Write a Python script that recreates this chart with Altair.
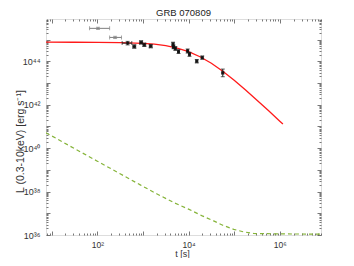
import altair as alt
import pandas as pd

# ---------------- data ----------------
# red model curve
red_t = [7.5, 31.6, 100, 316, 1000, 1778, 3162, 5623, 10000, 17783, 31623, 56234,
         100000, 177828, 316228, 562341, 1000000, 1170000]
red_L = [7.59e44, 7.57e44, 7.48e44, 7.24e44, 6.76e44, 6.17e44, 5.25e44, 4.07e44, 2.82e44,
         1.62e44, 8.13e43, 3.47e43, 1.35e43, 4.79e42, 1.62e42, 5.37e41, 1.74e41, 1.29e41]

# green dashed curve
grn_t = [7.5, 31.6, 100, 316, 871, 1995, 4677, 10000, 19953, 35481, 56234, 97724,
         158489, 269153, 501187, 1000000, 7900000]
grn_L = [5.13e40, 9.55e39, 2.51e39, 6.61e38, 2.04e38, 7.94e37, 3.16e37, 1.55e37, 7.59e36,
         4.47e36, 2.82e36, 1.82e36, 1.41e36, 1.17e36, 1.15e36, 1.12e36, 1.10e36]

# black data points
bk_t = [462, 646, 912, 1072, 1479, 4571, 4677, 5129, 6026, 9550, 10470, 15140, 19950, 56230]
bk_L = [6.9e44, 4.8e44, 7.4e44, 5.75e44, 5.0e44, 6.2e44, 4.6e44, 3.9e44, 2.8e44, 3.0e44,
        2.1e44, 1.02e44, 1.48e44, 2.95e43]
bk_Llo = [5.7e44, 4.0e44, 6.2e44, 4.8e44, 4.2e44, 5.0e44, 3.8e44, 3.2e44, 2.3e44, 2.4e44,
          1.7e44, 0.85e44, 1.25e44, 1.95e43]
bk_Lhi = [8.3e44, 5.8e44, 8.9e44, 6.9e44, 6.0e44, 7.6e44, 5.6e44, 4.8e44, 3.4e44, 3.7e44,
          2.6e44, 1.2e44, 1.75e44, 4.4e43]
bk_tlo = [350, 600, 850, 1000, 1380, 4350, 4450, 4880, 5730, 9080, 9960, 14400, 18980, 53500]
bk_thi = [570, 694, 980, 1152, 1590, 4800, 4910, 5390, 6330, 10030, 11000, 15900, 20950, 59100]

# gray early points
gy_t = [103.5, 245]
gy_L = [3.3e45, 1.26e45]
gy_Llo = [2.95e45, 1.12e45]
gy_Lhi = [3.7e45, 1.42e45]
gy_tlo = [67.6, 186]
gy_thi = [186, 339]

# axis ticks
x_major = [10, 100, 1e3, 1e4, 1e5, 1e6]
x_label_exp = [2, 4, 6]
y_major = [1e36, 1e37, 1e38, 1e39, 1e40, 1e41, 1e42, 1e43, 1e44, 1e45]
y_label_exp = [36, 38, 40, 42, 44]

# ---------------- build ----------------
x_minor = [k * 10 ** d for d in range(0, 7) for k in range(2, 10) if 7.5 <= k * 10 ** d <= 8.0e6]
y_minor = [k * 10.0 ** d for d in range(36, 46) for k in range(2, 10) if k * 10.0 ** d <= 8.9e45]

FONT = "Liberation Sans"
TXT = "#333333"
TK = "#555555"

def sup_expr(exps):
    sup = str.maketrans("0123456789-", "⁰¹²³⁴⁵⁶⁷⁸⁹⁻")
    parts = [f"abs(log(datum.value)/LN10 - {e}) < 0.01 ? '10{str(e).translate(sup)}'" for e in exps]
    return " : ".join(parts) + " : ''"

xs = alt.Scale(type="log", domain=[7.5, 8.0e6], nice=False)
ys = alt.Scale(type="log", domain=[1e36, 8.9e45], nice=False)

common = dict(domain=False, grid=False, tickColor=TK, tickWidth=0.8, labelOverlap=False,
              labelFlush=False)

ax_x_bottom = alt.Axis(orient="bottom", values=x_major, offset=-4, tickSize=4,
                       labelExpr=sup_expr(x_label_exp), labelFont=FONT, labelFontSize=8.5,
                       labelColor=TXT, labelPadding=5, labelBaseline="top",
                       title="t [s]", titleFont=FONT, titleFontSize=9, titleFontWeight="normal",
                       titleColor=TXT, titleX=136, titleY=25.5, titleBaseline="alphabetic",
                       titleAlign="center", **common)
ax_x_bottom_minor = alt.Axis(orient="bottom", values=x_minor, offset=-2, tickSize=2,
                             labels=False, title=None, **common)
ax_x_top = alt.Axis(orient="top", values=x_major, offset=-4, tickSize=4, labels=False,
                    title=None, **common)
ax_x_top_minor = alt.Axis(orient="top", values=x_minor, offset=-2, tickSize=2, labels=False,
                          title=None, **common)

ax_y_left = alt.Axis(orient="left", values=y_major, offset=-4, tickSize=4,
                     labelExpr=sup_expr(y_label_exp), labelFont=FONT, labelFontSize=9,
                     labelColor=TXT, labelPadding=6, labelBaseline="middle",
                     title="L (0.3-10keV) [erg s⁻¹]", titleFont=FONT, titleFontSize=10.5,
                     titleFontWeight="normal", titleColor=TXT, titleAngle=270,
                     titleX=-30, titleY=122, titleBaseline="middle", titleAlign="center",
                     **common)
ax_y_left_minor = alt.Axis(orient="left", values=y_minor, offset=-2, tickSize=2,
                           labels=False, title=None, **common)
ax_y_right = alt.Axis(orient="right", values=y_major, offset=-4, tickSize=4, labels=False,
                      title=None, **common)
ax_y_right_minor = alt.Axis(orient="right", values=y_minor, offset=-2, tickSize=2,
                            labels=False, title=None, **common)

df_red = pd.DataFrame({"t": red_t, "L": red_L})
df_grn = pd.DataFrame({"t": grn_t, "L": grn_L})
df_pts = pd.DataFrame({
    "t": bk_t + gy_t,
    "L": bk_L + gy_L,
    "Llo": bk_Llo + gy_Llo,
    "Lhi": bk_Lhi + gy_Lhi,
    "tlo": bk_tlo + gy_tlo,
    "thi": bk_thi + gy_thi,
    "g": ["black"] * len(bk_t) + ["gray"] * len(gy_t),
})

col = alt.Color("g:N", scale=alt.Scale(domain=["gray", "black"], range=["#7f7f7f", "#1a1a1a"]),
                legend=None)

red = alt.Chart(df_red).mark_line(color="#ff1a1a", strokeWidth=1.3, clip=True).encode(
    x=alt.X("t:Q", scale=xs, axis=ax_x_bottom),
    y=alt.Y("L:Q", scale=ys, axis=ax_y_left),
)
grn = alt.Chart(df_grn).mark_line(color="#86b43a", strokeWidth=1.2, strokeDash=[4, 3],
                                  clip=True).encode(
    x=alt.X("t:Q", scale=xs, axis=ax_x_bottom_minor),
    y=alt.Y("L:Q", scale=ys, axis=ax_y_left_minor),
)
ey = alt.Chart(df_pts).mark_rule(strokeWidth=1).encode(
    x=alt.X("t:Q", scale=xs, axis=ax_x_top),
    y=alt.Y("Llo:Q", scale=ys, axis=ax_y_right),
    y2="Lhi:Q",
    color=col,
)
ex = alt.Chart(df_pts).mark_rule(strokeWidth=1).encode(
    x=alt.X("tlo:Q", scale=xs, axis=ax_x_top_minor),
    x2="thi:Q",
    y=alt.Y("L:Q", scale=ys, axis=ax_y_right_minor),
    color=col,
)
cy = alt.Chart(df_pts).transform_fold(["Llo", "Lhi"], as_=["k", "v"]).mark_tick(
    orient="horizontal", size=4, thickness=1).encode(
    x=alt.X("t:Q", scale=xs, axis=None),
    y=alt.Y("v:Q", scale=ys, axis=None),
    color=col,
)
cx = alt.Chart(df_pts).transform_fold(["tlo", "thi"], as_=["k", "v"]).mark_tick(
    orient="vertical", size=4, thickness=1).encode(
    x=alt.X("v:Q", scale=xs, axis=None),
    y=alt.Y("L:Q", scale=ys, axis=None),
    color=col,
)
pts = alt.Chart(df_pts).transform_filter("datum.g == 'black'").mark_square(
    size=8, color="#111111", opacity=0.85).encode(
    x=alt.X("t:Q", scale=xs, axis=None),
    y=alt.Y("L:Q", scale=ys, axis=None),
)

chart = alt.layer(red, grn, ey, ex, cy, cx, pts).resolve_axis(
    x="independent", y="independent"
).properties(
    width=275,
    height=216,
    autosize=alt.AutoSizeParams(type="none"),
    padding={"left": 38, "top": 11, "right": 25, "bottom": 23},
    title=alt.Title("GRB 070809", font=FONT, fontSize=9.5, fontWeight="normal",
                    color="#222222", offset=1, anchor="middle"),
).configure_view(stroke="#666666", strokeWidth=1).configure(background="white")

chart.save("out.html", embed_options={"renderer": "svg", "actions": False})
